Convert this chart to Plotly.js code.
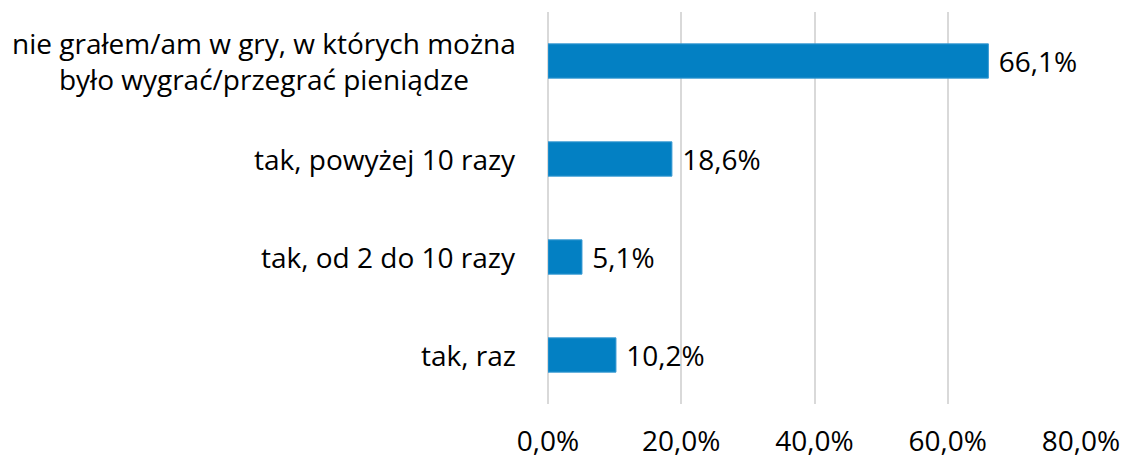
<!DOCTYPE html>
<html>
<head>
<meta charset="utf-8">
<script src="https://cdn.plot.ly/plotly-3.0.1.min.js"></script>
<style>html,body{margin:0;padding:0;background:#fff;}#chart{width:1124px;height:459px;}</style>
</head>
<body>
<div id="chart"></div>
<script>
const categories = [
  "nie grałem/am w gry, w których można<br>było wygrać/przegrać pieniądze",
  "tak, powyżej 10 razy",
  "tak, od 2 do 10 razy",
  "tak, raz"
];
const values = [66.1, 18.6, 5.1, 10.2];
const tickValues = [0, 20, 40, 60, 80];
const tickLabels = ["0,0%", "20,0%", "40,0%", "60,0%", "80,0%"];

const FONT = "'Open Sans', 'Liberation Sans', sans-serif";
const labels = values.map(v => '\u00a0' + v.toFixed(1).replace('.', ',') + '%');

const trace = {
  type: 'bar',
  orientation: 'h',
  y: categories,
  x: values,
  text: labels,
  textposition: 'outside',
  constraintext: 'none',
  cliponaxis: false,
  textfont: {family: FONT, size: 28, color: '#000'},
  marker: {color: '#0380c3', line: {color: '#3a9ad3', width: 1}},
  hoverinfo: 'none'
};

const annotations = categories.map(c => ({
  xref: 'paper', yref: 'y', x: -0.056, y: c,
  xanchor: 'right', yanchor: 'middle', align: 'center',
  text: c, showarrow: false,
  font: {family: FONT, size: 28, color: '#000'}
}));

const layout = {
  width: 1124, height: 459,
  margin: {l: 548, r: 43, t: 12, b: 55, pad: 0},
  paper_bgcolor: '#fff', plot_bgcolor: '#fff',
  bargap: 0.65,
  showlegend: false,
  font: {family: FONT, size: 28, color: '#000'},
  xaxis: {
    range: [0, 80], tickvals: tickValues, ticktext: tickLabels,
    showgrid: true, gridcolor: '#d9d9d9', gridwidth: 2,
    zeroline: true, zerolinecolor: '#d9d9d9', zerolinewidth: 2,
    showline: false, ticks: '', ticklabelstandoff: 18,
    tickfont: {family: FONT, size: 28, color: '#000'}, fixedrange: true
  },
  yaxis: {
    type: 'category', categoryorder: 'array',
    categoryarray: categories.slice().reverse(),
    showticklabels: false, showgrid: false, zeroline: false, showline: false, ticks: '',
    fixedrange: true
  },
  annotations: annotations
};

Plotly.newPlot('chart', [trace], layout, {staticPlot: true, displayModeBar: false});
</script>
</body>
</html>
